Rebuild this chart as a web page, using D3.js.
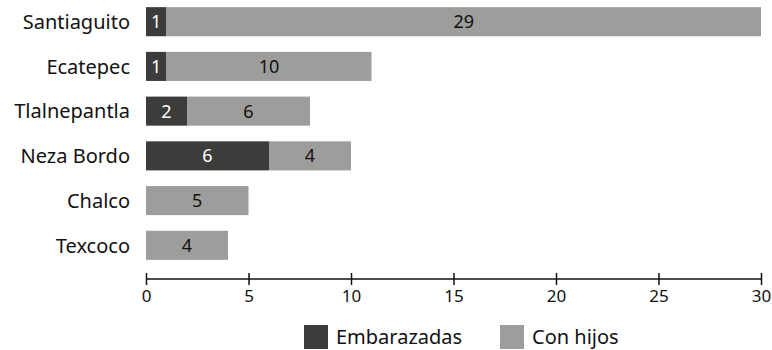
<!DOCTYPE html>
<html>
<head>
<meta charset="utf-8">
<script src="https://cdn.jsdelivr.net/npm/d3@7"></script>
<style>
  body { margin: 0; background: #fff; }
  text { font-family: 'Noto Sans', 'Open Sans', sans-serif; }
</style>
</head>
<body>
<div id="chart"></div>
<script>
const categories = ['Santiaguito', 'Ecatepec', 'Tlalnepantla', 'Neza Bordo', 'Chalco', 'Texcoco']
const embarazadas = [1, 1, 2, 6, 0, 0]
const conHijos = [29, 10, 6, 4, 5, 4]
const seriesNames = ['Embarazadas', 'Con hijos']
const xTicks = [0, 5, 10, 15, 20, 25, 30]

const margin = { top: 0, left: 146, right: 11, bottom: 0 }
const width = 772 - margin.left - margin.right
const colors = ['#3c3c3b', '#9d9d9c']
const textColors = ['#ffffff', '#111111']

const svg = d3
  .select('#chart')
  .append('svg')
  .attr('width', 772)
  .attr('height', 350)

const g = svg.append('g').attr('transform', 'translate(' + margin.left + ',0)')

const xScale = d3.scaleLinear().domain([0, 30]).range([0, width])
const yScale = d3
  .scaleBand()
  .domain(categories)
  .range([0, 267])
  .paddingInner(0.35)
  .paddingOuter(0.16)

const rows = categories.map((c, i) => ({
  category: c,
  Embarazadas: embarazadas[i],
  'Con hijos': conHijos[i]
}))
const stacked = d3.stack().keys(seriesNames)(rows)

// bars
stacked.forEach((series, si) => {
  const grp = g.append('g')
  grp
    .selectAll('rect')
    .data(series.filter(d => d[1] - d[0] > 0))
    .enter()
    .append('rect')
    .attr('x', d => xScale(d[0]))
    .attr('width', d => xScale(d[1]) - xScale(d[0]))
    .attr('y', d => yScale(d.data.category))
    .attr('height', yScale.bandwidth())
    .attr('fill', colors[si])

  grp
    .selectAll('text')
    .data(series.filter(d => d[1] - d[0] > 0))
    .enter()
    .append('text')
    .text(d => d[1] - d[0])
    .attr('x', d => (xScale(d[0]) + xScale(d[1])) / 2)
    .attr('y', d => yScale(d.data.category) + yScale.bandwidth() / 2)
    .attr('dy', '0.36em')
    .attr('text-anchor', 'middle')
    .attr('fill', textColors[si])
    .style('font-size', '18px')
})

// category labels
g.selectAll('.cat')
  .data(categories)
  .enter()
  .append('text')
  .attr('class', 'cat')
  .text(d => d)
  .attr('x', -16)
  .attr('y', d => yScale(d) + yScale.bandwidth() / 2)
  .attr('dy', '0.36em')
  .attr('text-anchor', 'end')
  .attr('fill', '#111')
  .style('font-size', '20px')

// x axis
const axis = g
  .append('g')
  .attr('transform', 'translate(0,279)')
  .call(d3.axisBottom(xScale).tickValues(xTicks).tickSize(6).tickPadding(5))
axis.select('.domain').attr('stroke', '#111').attr('stroke-width', 1.5).attr('d', 'M0,0H' + width)
axis.selectAll('.tick line').attr('y1', -6).attr('stroke', '#111').attr('stroke-width', 1.5)
axis.selectAll('.tick text')
  .style('font-size', '17px')
  .style('font-family', "'Noto Sans', 'Open Sans', sans-serif")
  .attr('fill', '#111')

// legend
const legend = svg.append('g').attr('transform', 'translate(304,325)')
const legendX = [0, 196]
seriesNames.forEach((name, i) => {
  legend
    .append('rect')
    .attr('x', legendX[i])
    .attr('y', 0)
    .attr('width', 24)
    .attr('height', 24)
    .attr('fill', colors[i])
  legend
    .append('text')
    .text(name)
    .attr('x', legendX[i] + 32)
    .attr('y', 12)
    .attr('dy', '0.36em')
    .attr('fill', '#111')
    .style('font-size', '20px')
})
</script>
</body>
</html>
